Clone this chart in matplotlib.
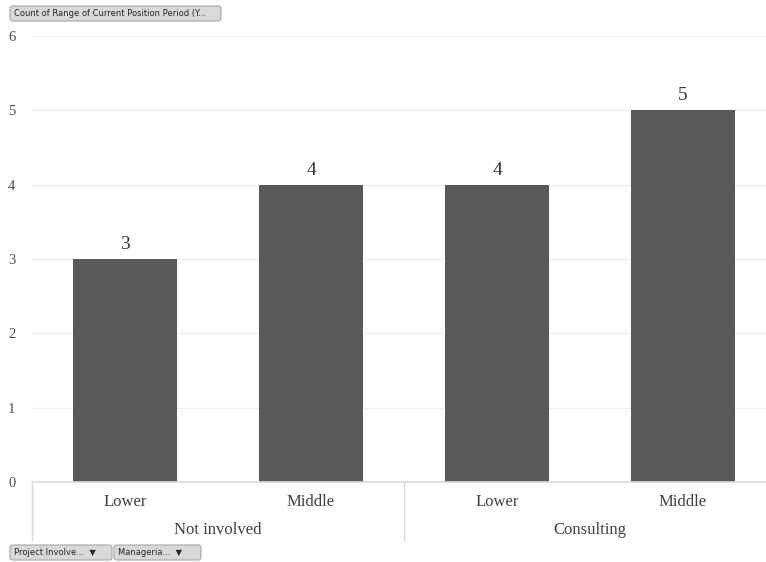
import matplotlib.pyplot as plt
from matplotlib.patches import FancyBboxPatch

# data
groups = ['Not involved', 'Consulting']
levels = ['Lower', 'Middle', 'Lower', 'Middle']
counts = [3, 4, 4, 5]
yticks = [0, 1, 2, 3, 4, 5, 6]

W, H = 766, 562
fig = plt.figure(figsize=(W / 100, H / 100), dpi=100)

# axes in pixel coords: left 32, bottom y=482, top y=36
ax = fig.add_axes([32 / W, (H - 482) / H, 1 - 32 / W, (482 - 36) / H])
x = list(range(len(counts)))
bars = ax.bar(x, counts, width=0.56, color='#595959', zorder=3)
for b, v in zip(bars, counts):
    ax.text(b.get_x() + b.get_width() / 2, v + 0.08, str(v), ha='center', va='bottom',
            family='Liberation Serif', fontsize=14, color='#333333')

ax.set_xlim(-0.5, -0.5 + (W - 32) / 186)
ax.set_ylim(0, 6)
ax.set_yticks(yticks)
ax.set_yticklabels([str(t) for t in yticks], family='Liberation Serif', fontsize=10.5, color='#4d4d4d')
ax.tick_params(axis='y', length=0, pad=12)
ax.set_xticks([])
for t in yticks[1:]:
    ax.axhline(t, color='#f0f0f0', lw=1, zorder=1)
ax.axhline(0, color='#d9d9d9', lw=1.2, zorder=4, clip_on=False)
for s in ax.spines.values():
    s.set_visible(False)

# category labels and separators below the axis
trans = ax.get_xaxis_transform()
for i, lab in enumerate(levels):
    ax.text(i, -20 / 446, lab, transform=trans, ha='center', va='center',
            family='Liberation Serif', fontsize=12, color='#404040')
for g, name in enumerate(groups):
    ax.text(2 * g + 0.5, -48 / 446, name, transform=trans, ha='center', va='center',
            family='Liberation Serif', fontsize=12, color='#404040')
for xs in [-0.5, 1.5, 3.5]:
    ax.plot([xs, xs], [0, -58 / 446], transform=trans, color='#d9d9d9', lw=1, clip_on=False)


def button(x0, y0, w, h, label):
    p = FancyBboxPatch((x0 / W, 1 - (y0 + h) / H), w / W, h / H,
                       boxstyle='round,pad=0,rounding_size=0.004', transform=fig.transFigure,
                       facecolor='#d9d9d9', edgecolor='#a6a6a6', lw=0.8)
    fig.patches.append(p)
    fig.text((x0 + 4) / W, 1 - (y0 + h / 2) / H, label, ha='left', va='center',
             family='DejaVu Sans', fontsize=6, color='#262626')


button(10, 6, 211, 15, 'Count of Range of Current Position Period (Y...')
button(10, 545, 102, 15, 'Project Involve...  \u25BC')
button(114, 545, 87, 15, 'Manageria...  \u25BC')

fig.savefig('out.png', dpi=100)
